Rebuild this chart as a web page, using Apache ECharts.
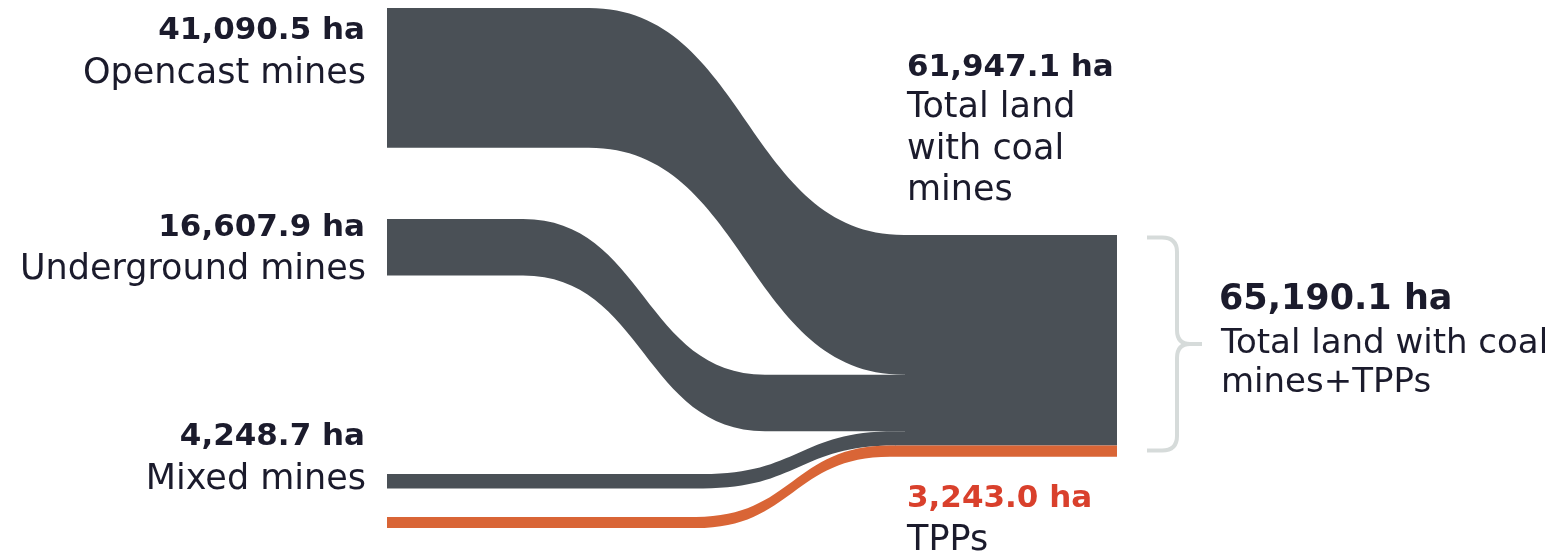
<!DOCTYPE html>
<html>
<head>
<meta charset="utf-8">
<title>Land occupied by coal mines and TPPs</title>
<script src="https://cdn.jsdelivr.net/npm/echarts@6/dist/echarts.min.js"></script>
<style>
  html, body { margin: 0; padding: 0; background: #ffffff; }
  #chart { width: 1557px; height: 553px; }
</style>
</head>
<body>
<div id="chart"></div>
<script>
// ---- data -------------------------------------------------------------
const sources = ['Opencast mines', 'Underground mines', 'Mixed mines', 'TPPs'];
const areaHa = [41090.5, 16607.9, 4248.7, 3243.0];
const coalSources = [0, 1, 2];          // indices of the mine types
const plantSources = [3];               // thermal power plants
const coalName = 'Total land\nwith coal\nmines';
const totalName = 'Total land with coal\nmines+TPPs';
const unit = ' ha';

// ---- layout (pixels) --------------------------------------------------
const W = 1557, H = 553;
const PX_PER_HA = 0.0034;
const LEFT_X = 387;          // start of every source band
const JOIN_X = 905;          // where the bands merge into the total block
const END_X = 1117;          // right end of the total block
const BLOCK_TOP = 235;       // top of the total block
const srcTop = [8, 219, 474, 517];       // top of each source band
const bendStart = [588, 522, 702, 695];  // each band runs flat until here
const bendEnd = [904, 765, 895, 890];    // ...and finishes its bend here

const GREY = '#4a5056';
const ORANGE = '#d96536';
const TEXT = '#1b1b2c';
const RED = '#d9402c';
const BRACE = '#d6dbda';
const FONT = '"DejaVu Sans", "Noto Sans", sans-serif';

const fmt = v => v.toLocaleString('en-US', { minimumFractionDigits: 1, maximumFractionDigits: 1 }) + unit;
const sum = idx => idx.reduce((s, i) => s + areaHa[i], 0);
const coalTotal = sum(coalSources);
const grandTotal = coalTotal + sum(plantSources);

// Four nodes stand in each of the first three columns, so the sankey scale
// is (height - 3 * gap) / total; choose the gap that gives PX_PER_HA.
const nodeGap = (H - PX_PER_HA * grandTotal) / 3;

const nodes = [];
const links = [];
const lx = x => x / W;
const ly = y => y / H;
function node(name, x, y, color, hidden) {
  nodes.push({
    name: name, localX: lx(x), localY: ly(y),
    itemStyle: { color: color, opacity: hidden ? 0 : 1, borderWidth: 0 }
  });
}
function link(a, b, value, color) {
  links.push({ source: a, target: b, value: value, lineStyle: { color: color, opacity: 1, curveness: 0.5 } });
}

// each source runs: start -> bend start -> bend end -> merge node
let coalOffset = 0;
sources.forEach((name, i) => {
  const isPlant = plantSources.includes(i);
  const color = isPlant ? ORANGE : GREY;
  const mergeY = isPlant ? BLOCK_TOP + coalTotal * PX_PER_HA : BLOCK_TOP + coalOffset;
  node(name, LEFT_X, srcTop[i], color);
  node(name + ' ', bendStart[i], srcTop[i], color);
  node(name + '  ', bendEnd[i], mergeY, color);
  if (!isPlant) coalOffset += areaHa[i] * PX_PER_HA;
});
node('coal', JOIN_X, BLOCK_TOP, GREY);
node('plants', JOIN_X, BLOCK_TOP + coalTotal * PX_PER_HA, ORANGE);
node('total', END_X, BLOCK_TOP, GREY, true);

sources.forEach((name, i) => {
  const isPlant = plantSources.includes(i);
  const color = isPlant ? ORANGE : GREY;
  link(name, name + ' ', areaHa[i], color);
  link(name + ' ', name + '  ', areaHa[i], color);
  link(name + '  ', isPlant ? 'plants' : 'coal', areaHa[i], color);
});
link('coal', 'total', coalTotal, GREY);
link('plants', 'total', sum(plantSources), ORANGE);

// ---- labels -----------------------------------------------------------
function text(str, x, y, opts) {
  return {
    type: 'text', silent: true, z: 10,
    style: Object.assign({
      text: str, x: x, y: y, fill: TEXT,
      font: '35px ' + FONT,
      align: 'left', textAlign: 'left',
      verticalAlign: 'middle', textVerticalAlign: 'middle'
    }, opts || {})
  };
}
const bold = size => '700 ' + size + 'px ' + FONT;
const leftLabelY = [[31, 73.5], [228, 269.5], [437, 479.5]];
const graphics = [];
coalSources.forEach((i, k) => {
  graphics.push(text(fmt(areaHa[i]), 365, leftLabelY[k][0], { font: bold(31), align: 'right', textAlign: 'right' }));
  graphics.push(text(sources[i], 366, leftLabelY[k][1], { align: 'right', textAlign: 'right' }));
});
graphics.push(text(fmt(coalTotal), 907, 67.5, { font: bold(31) }));
graphics.push(text(coalName, 907, 149.5, { lineHeight: 41.5 }));
graphics.push(text(fmt(grandTotal), 1219, 300, { font: bold(35) }));
graphics.push(text(totalName, 1221, 363.5, { lineHeight: 38.5, font: '34px ' + FONT }));
graphics.push(text(fmt(areaHa[plantSources[0]]), 907, 499, { font: bold(31), fill: RED }));
graphics.push(text(sources[plantSources[0]], 907, 541));

// curly brace beside the total block
const braceStyle = { stroke: BRACE, lineWidth: 4, fill: null };
const seg = (x1, y1, x2, y2) => ({ type: 'line', silent: true, shape: { x1, y1, x2, y2 }, style: braceStyle });
const curve = (x1, y1, cx, cy, x2, y2) => ({
  type: 'bezierCurve', silent: true,
  shape: { x1, y1, cpx1: cx, cpy1: cy, x2, y2 }, style: braceStyle
});
graphics.push(
  seg(1147, 237.5, 1162, 237.5),
  curve(1162, 237.5, 1177, 237.5, 1177, 252),
  seg(1177, 252, 1177, 330),
  curve(1177, 330, 1177, 344, 1190, 344),
  seg(1190, 344, 1202, 344),
  curve(1190, 344, 1177, 344, 1177, 358),
  seg(1177, 358, 1177, 436),
  curve(1177, 436, 1177, 450.5, 1162, 450.5),
  seg(1162, 450.5, 1147, 450.5)
);

const chart = echarts.init(document.getElementById('chart'), null, { renderer: 'canvas' });
chart.setOption({
  animation: false,
  backgroundColor: '#ffffff',
  tooltip: { show: false },
  series: [{
    type: 'sankey',
    left: 0, top: 0, right: 0, bottom: 0,
    nodeWidth: 1,
    nodeGap: nodeGap,
    layoutIterations: 0,
    draggable: false,
    silent: true,
    emphasis: { disabled: true },
    label: { show: false },
    data: nodes,
    links: links
  }],
  graphic: graphics
});
</script>
</body>
</html>
